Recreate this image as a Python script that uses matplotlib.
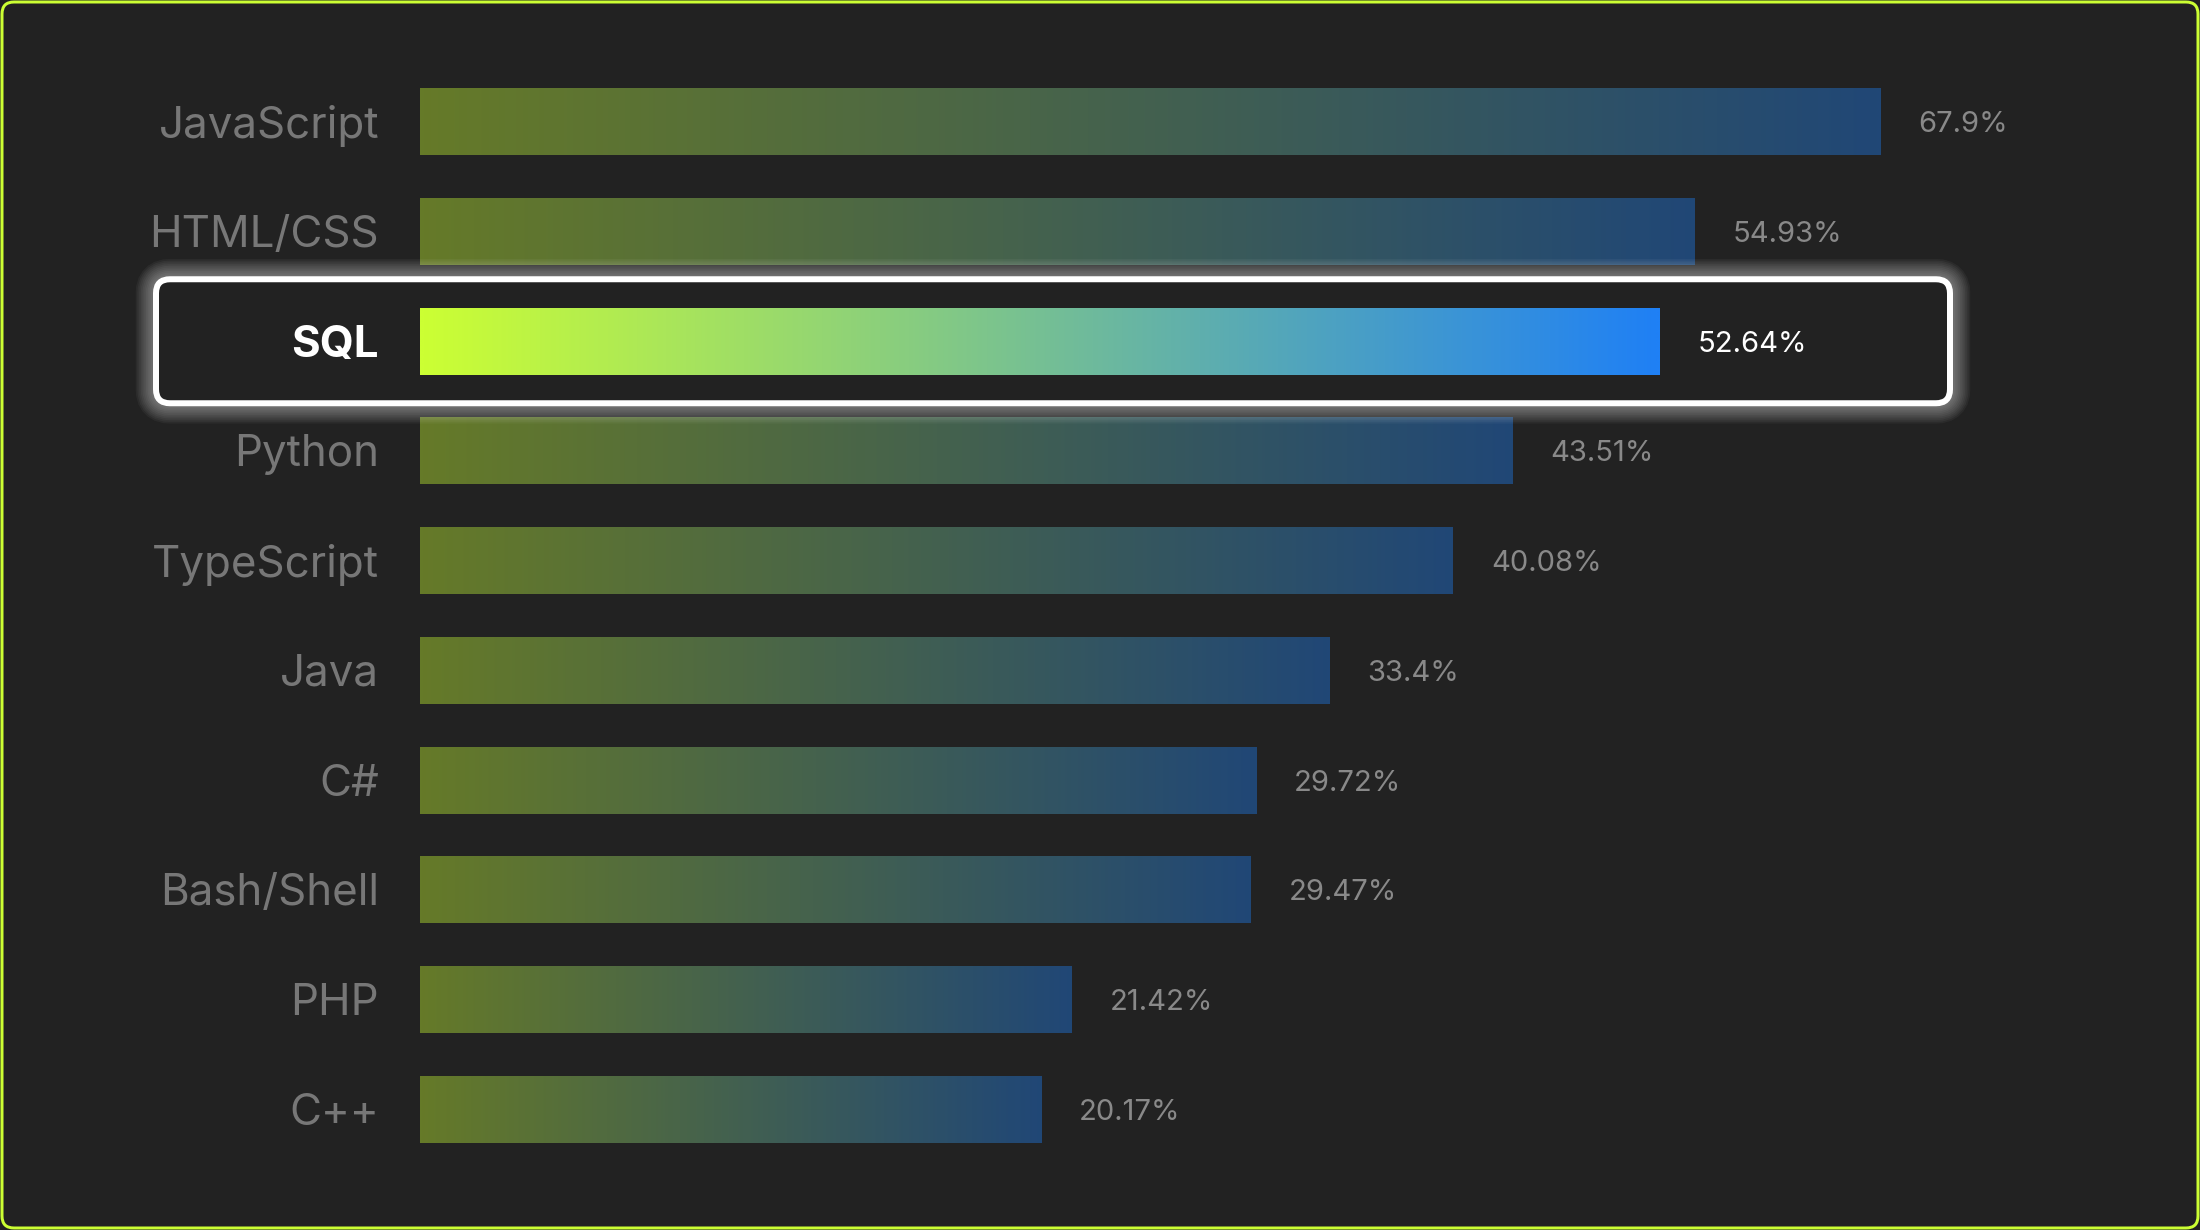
import numpy as np
import matplotlib
matplotlib.use("Agg")
import matplotlib.pyplot as plt
from matplotlib.patches import FancyBboxPatch
from matplotlib.colors import LinearSegmentedColormap
from matplotlib.transforms import Bbox, TransformedBbox, BboxTransformTo, IdentityTransform

# ---- data ----
languages = ["JavaScript", "HTML/CSS", "SQL", "Python", "TypeScript",
             "Java", "C#", "Bash/Shell", "PHP", "C++"]
shares = [67.9, 54.93, 52.64, 43.51, 40.08, 33.4, 29.72, 29.47, 21.42, 20.17]
value_labels = ["67.9%", "54.93%", "52.64%", "43.51%", "40.08%",
                "33.4%", "29.72%", "29.47%", "21.42%", "20.17%"]
highlight = "SQL"

# ---- style ----
BG = "#222222"
LIME = "#CCFF33"
BLUE = "#1F80F5"
W, H, DPI = 2200, 1230, 200
plt.rcParams["font.family"] = ["Inter", "DejaVu Sans"]

fig = plt.figure(figsize=(W / DPI, H / DPI), dpi=DPI, facecolor=BG)
ax = fig.add_axes([420 / W, 1 - 1164 / H, 1580 / W, 1097 / H])
ax.set_facecolor(BG)
ax.set_xscale("function",
              functions=(lambda x: np.sqrt(np.clip(x, 0, None)),
                         lambda x: np.square(x)))
XMIN, XMAX = 2.95, 76.98
ax.set_xlim(XMIN, XMAX)
ax.set_ylim(len(languages) - 0.5, -0.5)
ax.set_autoscale_on(False)
for s in ax.spines.values():
    s.set_visible(False)
ax.set_xticks([])
ax.set_yticks([])

cmap = LinearSegmentedColormap.from_list("grad", [LIME, BLUE])
grad = np.linspace(0, 1, 512)[None, :]
BAR_H = 0.61
px = 72 / DPI  # points per pixel

ypos = np.arange(len(languages))
bars = ax.barh(ypos, shares, height=BAR_H, left=0, color="none",
               edgecolor="none", zorder=2)

for yi, (lang, v, lab) in enumerate(zip(languages, shares, value_labels)):
    hl = lang == highlight
    bb = TransformedBbox(Bbox([[XMIN, yi - BAR_H / 2], [v, yi + BAR_H / 2]]),
                         ax.transData)
    im = ax.imshow(grad, cmap=cmap, aspect="auto", extent=(0, 1, 0, 1),
                   interpolation="bilinear", alpha=1.0 if hl else 0.4,
                   zorder=6 if hl else 2)
    im.set_transform(BboxTransformTo(bb))
    ax.set_xlim(XMIN, XMAX)
    ax.set_ylim(len(languages) - 0.5, -0.5)

    # category label
    ax.annotate(lang, xy=(0, yi), xycoords=("axes fraction", "data"),
                xytext=(-41 * px, -4 * px), textcoords="offset points",
                ha="right", va="center", fontsize=15.8,
                color="white" if hl else "#777777",
                fontweight="bold" if hl else "normal",
                zorder=7, annotation_clip=False)
    # value label
    ax.annotate(lab, xy=(v, yi), xycoords="data",
                xytext=(38 * px, -3 * px), textcoords="offset points",
                ha="left", va="center", fontsize=10.5,
                color="white" if hl else "#898989",
                zorder=7, annotation_clip=False)

ax.set_xlim(XMIN, XMAX)
ax.set_ylim(len(languages) - 0.5, -0.5)

# ---- highlight box with glow (pixel geometry from layout) ----
hi = languages.index(highlight)
fig.canvas.draw()
yc = ax.transData.transform((XMIN, hi))[1]
bx0, bx1 = 156, 1950
bh = 124
rad = 14
for k in range(10):
    grow = 2 + k * 1.7
    glow = FancyBboxPatch((bx0, yc - bh / 2), bx1 - bx0, bh,
                          boxstyle=f"round,pad=0,rounding_size={rad}",
                          transform=IdentityTransform(), facecolor="none",
                          edgecolor="white", linewidth=(6 + 2 * grow) * px,
                          alpha=0.045, zorder=3, clip_on=False)
    ax.add_artist(glow)
fill = FancyBboxPatch((bx0, yc - bh / 2), bx1 - bx0, bh,
                      boxstyle=f"round,pad=0,rounding_size={rad}",
                      transform=IdentityTransform(), facecolor=BG,
                      edgecolor="none", zorder=4, clip_on=False)
ax.add_artist(fill)
frame = FancyBboxPatch((bx0, yc - bh / 2), bx1 - bx0, bh,
                       boxstyle=f"round,pad=0,rounding_size={rad}",
                       transform=IdentityTransform(), facecolor="none",
                       edgecolor="white", linewidth=6 * px, zorder=5,
                       clip_on=False)
ax.add_artist(frame)

# ---- outer figure border ----
border = FancyBboxPatch((2, 2), W - 4, H - 4,
                        boxstyle="round,pad=0,rounding_size=12",
                        transform=IdentityTransform(), facecolor="none",
                        edgecolor=LIME, linewidth=3 * px, zorder=10)
fig.add_artist(border)

fig.savefig("out.png", dpi=DPI, facecolor=BG)
